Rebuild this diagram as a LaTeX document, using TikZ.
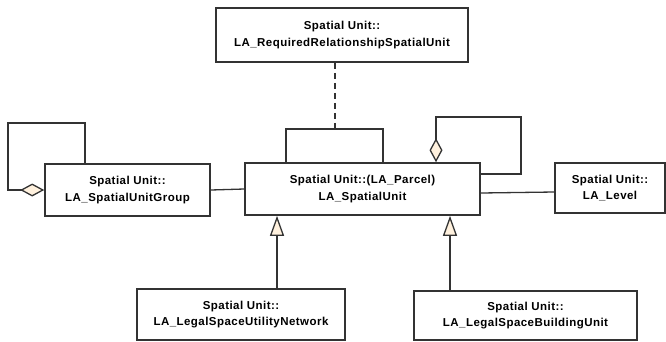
\documentclass[tikz,border=0pt]{standalone}
\usepackage{fontspec}
\setmainfont{Liberation Sans}
\newfontfamily\umlfont[LetterSpace=4]{Liberation Sans}
\usetikzlibrary{arrows.meta}
\definecolor{cream}{HTML}{FFF1DE}
\definecolor{edge}{HTML}{333333}
\tikzset{
  class/.style={draw=edge, line width=1.6pt, fill=white, align=center, inner sep=0pt,
    font=\umlfont\bfseries\fontsize{11.5}{16.5}\selectfont},
  assoc/.style={draw=edge, line width=1.3pt},
  gen/.style={assoc, -{Triangle[fill=cream, length=20pt, width=14pt]}},
  aggr/.style={assoc, -{Diamond[fill=cream, length=24pt, width=13pt]}}
}

\begin{document}
\begin{tikzpicture}[x=1pt,y=-1pt]
        \useasboundingbox (0,0) rectangle (666,341);
        \node[class, minimum width=252pt, minimum height=54pt] (reqrel) at (342,35) {Spatial Unit::\\LA\_RequiredRelationshipSpatialUnit};
        \node[class, minimum width=235pt, minimum height=52pt] (su) at (362.5,189) {Spatial Unit::(LA\_Parcel)\\LA\_SpatialUnit};
        \node[class, minimum width=165pt, minimum height=52pt] (sugroup) at (127.5,190) {Spatial Unit::\\LA\_SpatialUnitGroup};
        \node[class, minimum width=110pt, minimum height=50pt] (level) at (610,188) {Spatial Unit::\\LA\_Level};
        \node[class, minimum width=208pt, minimum height=51pt] (utilnet) at (241,314.5) {Spatial Unit::\\LA\_LegalSpaceUtilityNetwork};
        \node[class, minimum width=223pt, minimum height=49pt] (bldgunit) at (525.5,315.5) {Spatial Unit::\\LA\_LegalSpaceBuildingUnit};
        \coordinate (looptop) at (335,129);
        % self loops
        \draw[assoc] ([xshift=-76.5pt]su.north) |- (looptop) -| ([xshift=20.5pt]su.north);
        \draw[aggr] ([yshift=15pt]su.east) -| (521,117) -| ([xshift=73.5pt]su.north);
        \draw[aggr] ([xshift=-42.5pt]sugroup.north) |- (8,123) |- (sugroup.west);
        % relationships
        \draw[assoc, dashed, dash pattern=on 6pt off 4pt] (reqrel.south -| looptop) -- (looptop);
        \draw[assoc] (sugroup.east) -- (su.west);
        \draw[assoc] ([yshift=-4pt]su.east) -- ([yshift=-4pt]level.west);
        \draw[gen] ([xshift=36pt]utilnet.north) -- ([xshift=36pt]utilnet.north |- su.south);
        \draw[gen] ([xshift=-75.5pt]bldgunit.north) -- ([xshift=-75.5pt]bldgunit.north |- su.south);
    \end{tikzpicture}
\end{document}
